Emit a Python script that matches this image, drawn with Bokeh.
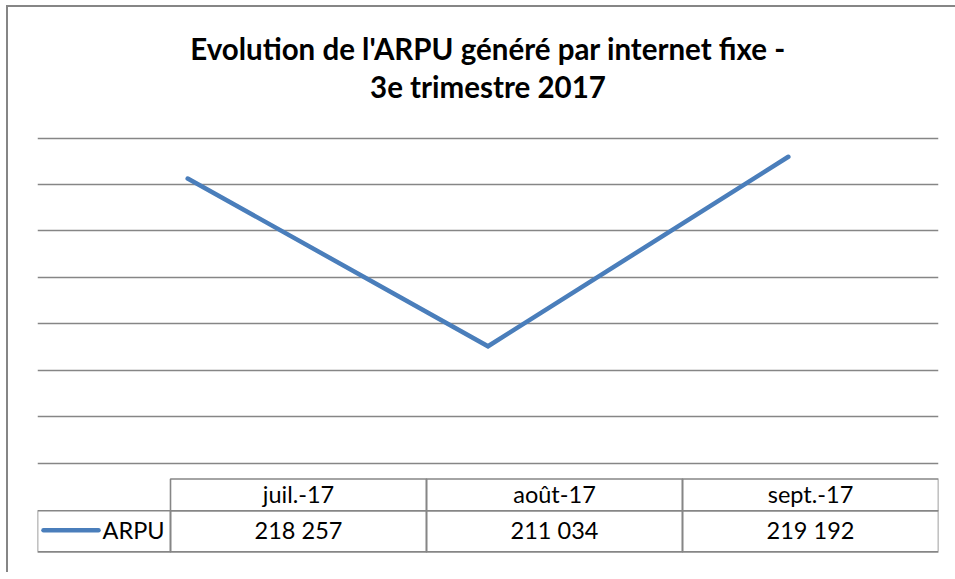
from bokeh.plotting import figure
from bokeh.models import Range1d, FactorRange, FixedTicker
from bokeh.layouts import column
from bokeh.core.properties import value
from bokeh.embed import file_html
from bokeh.resources import INLINE

# ---- data ----
TITLE_LINES = ["Evolution de l'ARPU généré par internet fixe -", "3e trimestre 2017"]
MONTHS = ["juil.-17", "août-17", "sept.-17"]
ARPU = [218257, 211034, 219192]
ARPU_LABELS = ["218 257", "211 034", "219 192"]
SERIES = "ARPU"
Y_TICKS = [206000, 208000, 210000, 212000, 214000, 216000, 218000, 220000]

# ---- style ----
LINE_COLOR = "#4A7EBB"
GRID_COLOR = "#868686"
FONT = "Lato"
W = 947
BL, BR = 29, 17          # side borders -> frame 901 px wide
FW = W - BL - BR

def blank(h, yr):
    p = figure(width=W, height=h, x_range=Range1d(0, FW), y_range=yr,
               toolbar_location=None, output_backend="svg",
               min_border_left=BL, min_border_right=BR, min_border_top=0, min_border_bottom=0)
    p.axis.visible = False
    p.grid.visible = False
    p.outline_line_color = None
    return p

# ---- title figure ----
TH = 123
pt = blank(TH, Range1d(TH, 0))
pt.text(x=[FW / 2] * 2, y=[40.5, 78.5], text=TITLE_LINES, text_align="center",
        text_baseline="alphabetic", text_font=value(FONT), text_font_style="bold",
        text_font_size="29.5px", text_color="black")

# ---- plot figure ----
AH = 345
px_per_unit = 325.2 / (Y_TICKS[-1] - Y_TICKS[0])
y0 = Y_TICKS[0] - 2.3 / px_per_unit
y1 = Y_TICKS[-1] + 2.5 / px_per_unit
pa = figure(width=W, height=AH, x_range=FactorRange(*MONTHS), y_range=Range1d(y0, y1),
            toolbar_location=None, output_backend="svg",
            min_border_left=BL, min_border_right=BR, min_border_top=5, min_border_bottom=10)
pa.axis.visible = False
pa.xgrid.visible = False
pa.ygrid.ticker = FixedTicker(ticks=Y_TICKS)
pa.ygrid.grid_line_color = GRID_COLOR
pa.ygrid.grid_line_width = 1.6
pa.outline_line_color = None
pa.line(x=MONTHS, y=ARPU, line_color=LINE_COLOR, line_width=4.5,
        line_cap="round", line_join="miter")

# ---- table figure ----
BH = 97
pb = blank(BH, Range1d(BH, 0))
LEG_W, COL_W = 133, 256
HEAD_TOP, HEAD_H, ROW_H = 3.5, 31.7, 41.2
row_top = HEAD_TOP + HEAD_H
row_bot = row_top + ROW_H
col_left = [LEG_W + i * COL_W for i in range(len(MONTHS))]
col_ctr = [c + COL_W / 2 for c in col_left]
pb.quad(left=col_left, right=[c + COL_W for c in col_left], top=[HEAD_TOP] * 3,
        bottom=[row_top] * 3, fill_color=None, line_color=GRID_COLOR, line_width=1.6)
pb.quad(left=[0] + col_left, right=[LEG_W] + [c + COL_W for c in col_left],
        top=[row_top] * 4, bottom=[row_bot] * 4, fill_color=None,
        line_color=GRID_COLOR, line_width=1.6)
pb.text(x=col_ctr, y=[HEAD_TOP + HEAD_H / 2 - 1] * 3, text=MONTHS, text_align="center",
        text_baseline="middle", text_font=value(FONT), text_font_size="23.5px",
        text_color="black")
pb.text(x=col_ctr, y=[row_top + ROW_H / 2 - 1.5] * 3, text=ARPU_LABELS, text_align="center",
        text_baseline="middle", text_font=value(FONT), text_font_size="23.5px",
        text_color="black")
ymid = row_top + ROW_H / 2 - 1
pb.line(x=[6, 61], y=[ymid, ymid], line_color=LINE_COLOR, line_width=4.5, line_cap="round")
pb.text(x=[65], y=[ymid - 0.5], text=[SERIES], text_align="left", text_baseline="middle",
        text_font=value(FONT), text_font_size="23.5px", text_color="black")

layout = column(pt, pa, pb, spacing=0,
                styles={"margin-left": "6px", "margin-top": "5px",
                        "border-left": "2px solid #868686", "border-top": "2px solid #868686"})

open("out.html", "w").write(file_html(layout, INLINE))
